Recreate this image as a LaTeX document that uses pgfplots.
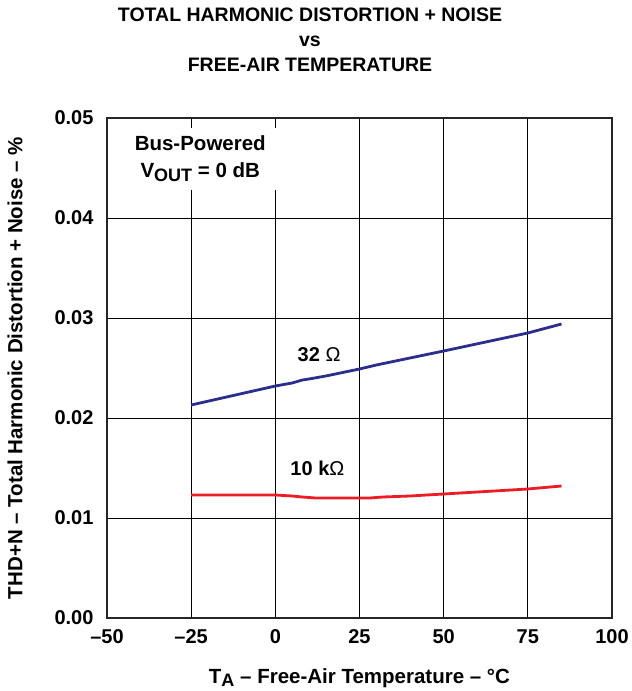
\documentclass[border=0pt]{standalone}
\usepackage{fontspec}
\setmainfont{Liberation Sans}
\usepackage{pgfplots}
\pgfplotsset{compat=1.18}
\definecolor{cblue}{RGB}{43,46,140}
\definecolor{cred}{RGB}{237,28,36}
\begin{document}
\begin{tikzpicture}
\path[use as bounding box] (-107pt,-73pt) rectangle (525pt,618pt);
\begin{axis}[
  at={(0,0)}, anchor=south west,
  scale only axis, width=505pt, height=500pt,
  xmin=-50, xmax=100, ymin=0, ymax=0.05,
  scaled y ticks=false,
  xtick={-50,-25,0,25,50,75,100},
  xticklabels={–50,–25,0,25,50,75,100},
  ytick={0,0.01,0.02,0.03,0.04,0.05},
  yticklabels={0.00,0.01,0.02,0.03,0.04,0.05},
  major tick length=0pt,
  grid=major,
  major grid style={black, line width=0.8pt},
  axis line style={line width=2pt, black!85},
  ticklabel style={font=\bfseries\fontsize{20}{22}\selectfont},
  xticklabel style={yshift=-8pt},
  yticklabel style={xshift=-10pt},
  xlabel={\bfseries\fontsize{20.5}{22}\selectfont T\raisebox{-0.35ex}{\fontsize{18}{18}\selectfont A} – Free-Air Temperature – °C},
  ylabel={\bfseries\fontsize{20.5}{22}\selectfont THD+N – Total Harmonic Distortion + Noise – \%},
  xlabel style={at={(axis description cs:0.5,-0.13)}, anchor=base},
  ylabel style={at={(axis description cs:-0.1822,0.5)}, anchor=center},
]
\addplot[cblue, line width=2.8pt] coordinates {
(-25,0.0213) (0,0.0232) (5,0.0235) (8,0.0238) (10,0.0239) (15,0.0242) (25,0.0249) (30,0.0253) (50,0.0267) (75,0.0285) (85,0.0294)
};
\addplot[cred, line width=2.8pt] coordinates {
(-25,0.0123) (0,0.0123) (5,0.0122) (8,0.0121) (12,0.0120) (20,0.0120) (28,0.0120) (32,0.0121) (40,0.0122) (50,0.0124) (65,0.0127) (75,0.0129) (85,0.0132)
};
\node[font=\bfseries\fontsize{20}{22}\selectfont] at (axis cs:13,0.0263) {32 {\mdseries Ω}};
\node[font=\bfseries\fontsize{20}{22}\selectfont] at (axis cs:12.5,0.0150) {10 k{\mdseries Ω}};
\node[fill=white, align=center, inner xsep=10pt, inner ysep=8pt, font=\bfseries\fontsize{20.5}{27}\selectfont] at (axis cs:-22.3,0.0459) {Bus-Powered\\V\raisebox{-0.35ex}{\fontsize{18}{18}\selectfont OUT} = 0 dB};
\end{axis}
\node[align=center, anchor=north, font=\bfseries\fontsize{19.5}{25}\selectfont] at (203pt,614pt) {TOTAL HARMONIC DISTORTION + NOISE\\vs\\FREE-AIR TEMPERATURE};
\end{tikzpicture}
\end{document}
